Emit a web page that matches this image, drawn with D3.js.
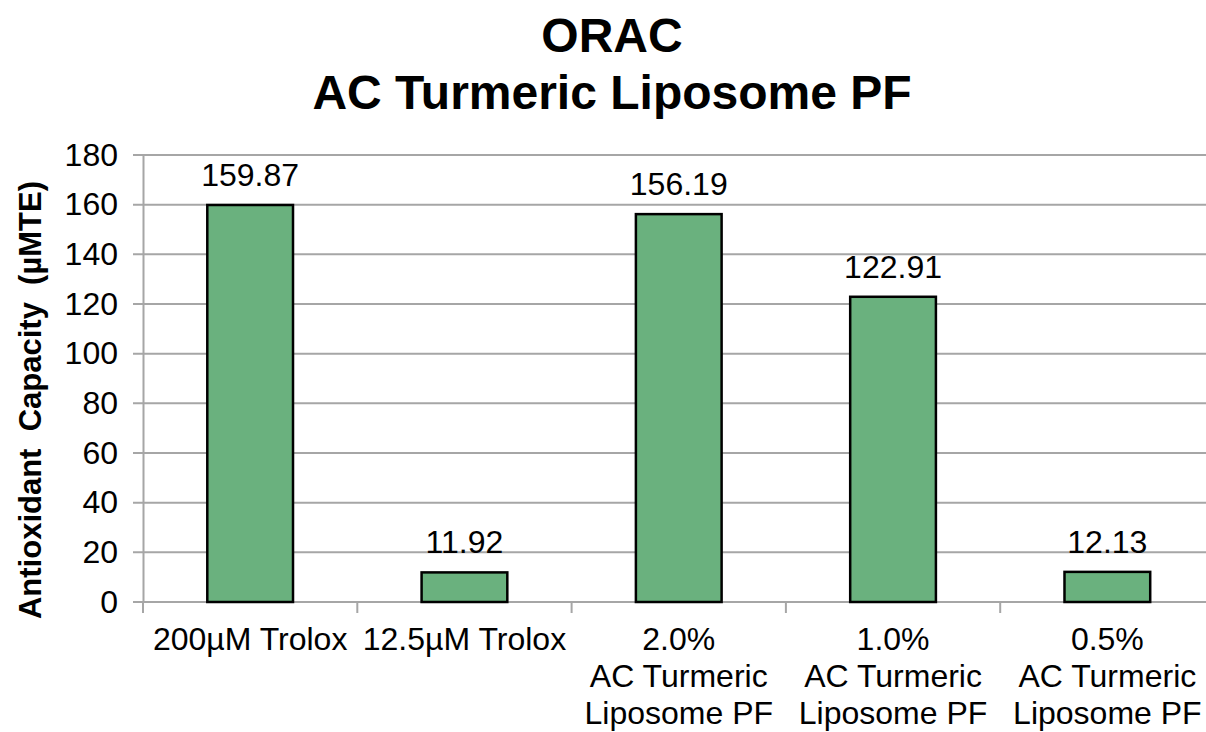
<!DOCTYPE html>
<html>
<head>
<meta charset="UTF-8">
<title>ORAC AC Turmeric Liposome PF</title>
<script src="https://cdnjs.cloudflare.com/ajax/libs/d3/7.9.0/d3.min.js"></script>
<style>
    body { margin: 0; background: #fff; }
    svg { display: block; font-family: "Liberation Sans", Arial, sans-serif; }
</style>
</head>
<body>
<div id="chart"></div>
<script>
    // data
    const categories = ["200µM Trolox", "12.5µM Trolox", "2.0%\nAC Turmeric\nLiposome PF",
                        "1.0%\nAC Turmeric\nLiposome PF", "0.5%\nAC Turmeric\nLiposome PF"];
    const values = [159.87, 11.92, 156.19, 122.91, 12.13];
    const yTicks = [0, 20, 40, 60, 80, 100, 120, 140, 160, 180];
    const titleLines = ["ORAC", "AC Turmeric Liposome PF"];
    const yLabel = "Antioxidant  Capacity  (µMTE)";

    const W = 1206, H = 732;
    const margin = {top: 155, left: 143, bottom: 130};
    const plotW = 214.3 * categories.length;
    const plotH = H - margin.top - margin.bottom;

    const svg = d3.select("#chart").append("svg")
        .attr("width", W).attr("height", H);

    const x = d3.scaleBand().domain(categories).range([0, plotW]).paddingInner(0.6).paddingOuter(0.3);
    const y = d3.scaleLinear().domain([0, 180]).range([plotH, 0]);

    const g = svg.append("g").attr("transform", `translate(${margin.left},${margin.top})`);

    // gridlines
    g.selectAll(".grid").data(yTicks).enter().append("line")
        .attr("x1", -10).attr("x2", plotW)
        .attr("y1", d => y(d)).attr("y2", d => y(d))
        .attr("stroke", "#a6a6a6").attr("stroke-width", 2);

    // y axis
    const yAxis = g.append("g").call(d3.axisLeft(y).tickValues(yTicks).tickSize(0).tickPadding(25));
    yAxis.select(".domain").attr("stroke", "#a6a6a6").attr("stroke-width", 2);
    yAxis.selectAll("text").attr("font-size", 32).attr("fill", "#000")
        .attr("font-family", "Liberation Sans, Arial, sans-serif");

    // x axis baseline + ticks between categories
    g.append("line").attr("x1", 0).attr("x2", plotW).attr("y1", plotH).attr("y2", plotH)
        .attr("stroke", "#a6a6a6").attr("stroke-width", 2);
    g.selectAll(".xtick").data(d3.range(categories.length + 1)).enter().append("line")
        .attr("x1", d => d * plotW / categories.length).attr("x2", d => d * plotW / categories.length)
        .attr("y1", plotH).attr("y2", plotH + 11)
        .attr("stroke", "#a6a6a6").attr("stroke-width", 2);

    // bars
    g.selectAll(".bar").data(values).enter().append("rect")
        .attr("x", (d, i) => x(categories[i]))
        .attr("width", x.bandwidth())
        .attr("y", d => y(d))
        .attr("height", d => plotH - y(d))
        .attr("fill", "#6ab17e")
        .attr("stroke", "#000").attr("stroke-width", 2.5);

    // value labels
    g.selectAll(".val").data(values).enter().append("text")
        .attr("x", (d, i) => x(categories[i]) + x.bandwidth() / 2)
        .attr("y", d => y(d) - 19)
        .attr("text-anchor", "middle")
        .attr("font-size", 32)
        .attr("fill", "#000")
        .text(d => d.toFixed(2));

    // category labels
    categories.forEach((c, i) => {
        const t = g.append("text")
            .attr("x", x(c) + x.bandwidth() / 2)
            .attr("y", plotH + 48)
            .attr("text-anchor", "middle")
            .attr("font-size", 32)
            .attr("fill", "#000");
        c.split("\n").forEach((line, j) => {
            t.append("tspan").attr("x", x(c) + x.bandwidth() / 2).attr("dy", j === 0 ? 0 : 37).text(line);
        });
    });

    // title
    svg.append("text").attr("x", 612).attr("y", 52)
        .attr("text-anchor", "middle").attr("font-size", 48).attr("font-weight", "bold")
        .selectAll("tspan").data(titleLines).enter().append("tspan")
        .attr("x", 612).attr("dy", (d, i) => i === 0 ? 0 : 57).text(d => d);

    // y axis title
    svg.append("text")
        .attr("transform", `translate(41,400) rotate(-90)`)
        .attr("text-anchor", "middle").attr("font-size", 31).attr("font-weight", "bold")
        .attr("xml:space", "preserve").style("white-space", "pre")
        .text(yLabel);
</script>
</body>
</html>
